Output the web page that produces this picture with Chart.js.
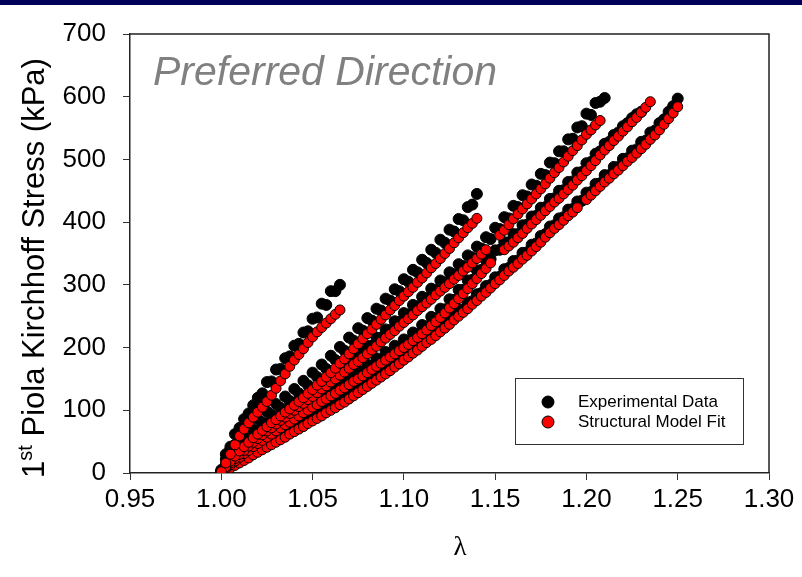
<!DOCTYPE html>
<html>
<head>
<meta charset="utf-8">
<script src="https://cdn.jsdelivr.net/npm/chart.js@4.4.1/dist/chart.umd.min.js"></script>
<style>
  html, body { margin: 0; padding: 0; background: #fff; }
  canvas { display: block; }
</style>
</head>
<body>
<canvas id="chart" width="802" height="577"></canvas>
<script>
// Stretch grids (λ)
const LAMBDA_FINE = [1.0000,1.0025,1.0050,1.0075,1.0100,1.0125,1.0150,1.0175,1.0200,1.0225,1.0250,1.0275,1.0300,1.0325,1.0350,1.0375,1.0400,1.0425,1.0450,1.0475,1.0500,1.0525,1.0550,1.0575,1.0600,1.0625,1.0650,1.0675,1.0700,1.0725,1.0750,1.0775,1.0800,1.0825,1.0850,1.0875,1.0900,1.0925,1.0950,1.0975,1.1000,1.1025,1.1050,1.1075,1.1100,1.1125,1.1150,1.1175,1.1200,1.1225,1.1250,1.1275,1.1300,1.1325,1.1350,1.1375,1.1400,1.1425,1.1450,1.1475,1.1500,1.1525,1.1550,1.1575,1.1600,1.1625,1.1650,1.1675,1.1700,1.1725,1.1750,1.1775,1.1800,1.1825,1.1850,1.1875,1.1900,1.1925,1.1950,1.1975,1.2000,1.2025,1.2050,1.2075,1.2100,1.2125,1.2150,1.2175,1.2200,1.2225,1.2250,1.2275,1.2300,1.2325,1.2350,1.2375,1.2400,1.2425,1.2450,1.2475,1.2500];
const LAMBDA_A = [1.000,1.005,1.010,1.015,1.020,1.025,1.030,1.035,1.040,1.045,1.050,1.055,1.060,1.065,1.070,1.075,1.080,1.085,1.090,1.095,1.100,1.105,1.110,1.115,1.120,1.125,1.130,1.135,1.140,1.145,1.150,1.155,1.160,1.165,1.170,1.175,1.180,1.185,1.190,1.195,1.200,1.205,1.210,1.215,1.220,1.225,1.230,1.235,1.240,1.245,1.250];
const LAMBDA_B = [1.0025,1.0075,1.0125,1.0175,1.0225,1.0275,1.0325,1.0375,1.0425,1.0475,1.0525,1.0575,1.0625,1.0675,1.0725,1.0775,1.0825,1.0875,1.0925,1.0975,1.1025,1.1075,1.1125,1.1175,1.1225,1.1275,1.1325,1.1375,1.1425,1.1475,1.1525,1.1575,1.1625,1.1675,1.1725,1.1775,1.1825,1.1875,1.1925,1.1975,1.2025,1.2075,1.2125,1.2175,1.2225,1.2275,1.2325,1.2375,1.2425,1.2475];

// Structural model fit, 1st PK stress (kPa) on LAMBDA_FINE, one array per protocol
const MODEL_1 = [2,16,30,45,59,70,80,89,97,105,114,124,135,147,158,170,180,189,198,208,217,225,232,239,246,253,260];
const MODEL_2 = [0,10,19,27,35,42,49,56,62,68,74,80,85,91,97,102,108,114,120,127,133,140,146,153,160,167,175,182,190,198,206,214,222,229,237,245,252,260,267,275,282,289,296,304,311,319,327,334,342,350,358,367,375,383,391,398,406];
const MODEL_3 = [0,8,16,23,30,36,43,49,55,61,67,72,78,84,89,95,100,106,111,117,122,128,134,139,145,150,156,161,167,173,178,184,190,196,202,209,215,221,227,234,240,246,252,259,265,271,277,284,290,296,302,309,315,322,328,335,342,349,356,null,null,379,387,396,405,413,421,429,437,445,453,461,470,479,487,496,505,514,522,531,540,547,555,562];
const MODEL_4 = [0,7,13,19,25,31,36,42,47,52,57,62,67,72,77,81,86,91,96,100,105,109,114,118,123,127,132,136,141,146,150,155,160,165,170,175,180,185,190,195,200,205,211,216,222,228,235,241,248,255,263,270,278,286,294,302,310,318,326,335,null,null,356,362,368,375,382,390,397,404,411,418,425,432,438,445,452,459,467,474,482,490,498,507,515,522,530,537,545,552,560,567,575,583,592];
const MODEL_5 = [0,4,8,12,16,20,24,29,33,37,41,45,49,53,57,62,66,70,74,79,83,87,91,96,100,104,109,113,118,123,128,133,138,143,148,153,158,163,169,174,180,185,191,196,202,208,213,219,225,231,237,244,250,256,262,269,275,282,288,295,302,308,315,322,328,334,341,347,354,361,368,376,383,390,396,403,410,416,423,null,436,443,450,457,464,470,477,483,490,497,503,510,517,524,532,539,547,556,565,574,584];

// Experimental data, 1st PK stress (kPa): first pass on LAMBDA_A, second pass on LAMBDA_B
const EXP_1A = [5,42,72,95,120,145,165,183,203,224,246,270,290,300];
const EXP_1B = [30,62,86,108,127,146,166,186,206,226,248,268,290];
const EXP_2A = [3,38,58,73,86,98,110,122,134,147,160,173,187,201,216,231,247,262,278,293,309,324,340,356,372,388,405,424,445];
const EXP_2B = [22,45,56,69,81,93,104,115,127,140,153,166,180,195,211,227,243,259,275,290,305,320,335,351,367,385,403,428];
const EXP_3A = [3,28,42,55,67,79,90,101,112,123,134,146,157,168,180,191,203,216,229,242,255,268,281,294,307,320,333,347,361,376,391,408,426,443,460,477,495,513,532,551,573,590,598];
const EXP_3B = [14,30,42,55,67,78,90,101,112,123,134,145,157,168,180,191,203,216,228,241,253,266,279,292,304,317,330,344,358,373,389,406,424,441,458,475,494,513,533,553,571,592];
const EXP_4A = [2,25,38,49,60,70,80,90,99,109,118,127,136,145,154,163,173,183,193,203,213,224,236,249,262,277,292,307,323,339,355,368,381,395,409,423,437,450,464,479,494,509,525,539,553,566,576];
const EXP_4B = [13,26,37,48,58,68,78,87,97,106,115,124,133,142,152,161,171,181,191,201,211,222,234,247,261,276,292,308,324,341,356,368,381,396,410,424,438,451,465,480,496,513,528,543,558,572];
const EXP_5A = [2,18,27,35,43,51,59,67,76,84,93,101,110,119,128,138,148,158,168,179,190,201,212,223,235,247,260,272,285,298,312,325,338,351,364,378,393,406,420,433,447,461,475,488,501,514,528,543,558,576,597];
const EXP_5B = [9,17,25,34,42,50,58,67,75,84,92,101,109,118,128,138,148,158,168,179,190,201,213,224,236,249,261,274,287,300,313,327,339,352,366,381,395,408,421,434,448,462,475,488,502,516,530,546,564,585];

// Axis ticks
const X_TICKS = [0.95, 1.00, 1.05, 1.10, 1.15, 1.20, 1.25, 1.30];
const Y_TICKS = [0, 100, 200, 300, 400, 500, 600, 700];

const SERIES_NAMES = ['Experimental Data', 'Structural Model Fit'];
const PANEL_TITLE = 'Preferred Direction';

const SANS = "'Liberation Sans', Arial, Helvetica, sans-serif";
const SERIF = "'Liberation Serif', 'Times New Roman', serif";

function toPoints(lams, stresses) {
  const pts = [];
  stresses.forEach((s, i) => {
    if (s !== null) pts.push({ x: lams[i], y: s });
  });
  return pts;
}

const expSets = [
  [LAMBDA_A, EXP_1A], [LAMBDA_B, EXP_1B],
  [LAMBDA_A, EXP_2A], [LAMBDA_B, EXP_2B],
  [LAMBDA_A, EXP_3A], [LAMBDA_B, EXP_3B],
  [LAMBDA_A, EXP_4A], [LAMBDA_B, EXP_4B],
  [LAMBDA_A, EXP_5A], [LAMBDA_B, EXP_5B]
].map(([lam, arr]) => ({
  label: SERIES_NAMES[0],
  data: toPoints(lam, arr),
  backgroundColor: '#000000',
  borderColor: '#000000',
  borderWidth: 1,
  pointRadius: 5.5,
  order: 2
}));
const modelSets = [MODEL_1, MODEL_2, MODEL_3, MODEL_4, MODEL_5].map(arr => ({
  label: SERIES_NAMES[1],
  data: toPoints(LAMBDA_FINE, arr),
  backgroundColor: '#ff0000',
  borderColor: '#000000',
  borderWidth: 1,
  pointRadius: 5,
  order: 1
}));

const decor = {
  id: 'decor',
  beforeDraw(chart) {
    const ctx = chart.ctx;
    ctx.save();
    ctx.fillStyle = '#ffffff';
    ctx.fillRect(0, 0, chart.width, chart.height);
    ctx.fillStyle = '#000058';
    ctx.fillRect(0, 0, chart.width, 5);
    ctx.restore();
  },
  afterDraw(chart) {
    const ctx = chart.ctx;
    const a = chart.chartArea;
    ctx.save();

    // frame: top and right edges
    ctx.strokeStyle = '#222';
    ctx.lineWidth = 1.5;
    ctx.beginPath();
    ctx.moveTo(a.left, a.top);
    ctx.lineTo(a.right, a.top);
    ctx.lineTo(a.right, a.bottom);
    ctx.stroke();

    // panel title
    ctx.fillStyle = '#808080';
    ctx.font = 'italic 41px ' + SANS;
    ctx.textAlign = 'left';
    ctx.textBaseline = 'alphabetic';
    ctx.fillText(PANEL_TITLE, 153, 85);

    // y axis title with superscript
    ctx.save();
    ctx.translate(44, 268);
    ctx.rotate(-Math.PI / 2);
    ctx.fillStyle = '#000';
    const mainFont = '31px ' + SANS;
    const supFont = '20px ' + SANS;
    ctx.font = mainFont;
    const w1 = ctx.measureText('1').width;
    const w3 = ctx.measureText(' Piola Kirchhoff Stress (kPa)').width;
    ctx.font = supFont;
    const w2 = ctx.measureText('st').width;
    const x0 = -(w1 + w2 + w3) / 2;
    ctx.textAlign = 'left';
    ctx.textBaseline = 'alphabetic';
    ctx.font = mainFont;
    ctx.fillText('1', x0, 0);
    ctx.font = supFont;
    ctx.fillText('st', x0 + w1, -12);
    ctx.font = mainFont;
    ctx.fillText(' Piola Kirchhoff Stress (kPa)', x0 + w1 + w2, 0);
    ctx.restore();

    // x axis title
    ctx.fillStyle = '#000';
    ctx.font = '27px ' + SERIF;
    ctx.textAlign = 'center';
    ctx.textBaseline = 'middle';
    ctx.fillText('λ', 460, 548);

    // legend
    ctx.fillStyle = '#ffffff';
    ctx.fillRect(515, 378, 228, 66);
    ctx.strokeStyle = '#333';
    ctx.lineWidth = 1;
    ctx.strokeRect(515.5, 378.5, 228, 66);
    const rows = [
      { y: 402, fill: '#000000', text: SERIES_NAMES[0] },
      { y: 422, fill: '#ff0000', text: SERIES_NAMES[1] }
    ];
    rows.forEach(r => {
      ctx.beginPath();
      ctx.arc(548, r.y, 6, 0, Math.PI * 2);
      ctx.fillStyle = r.fill;
      ctx.fill();
      ctx.strokeStyle = '#000';
      ctx.lineWidth = 1;
      ctx.stroke();
      ctx.fillStyle = '#000';
      ctx.font = '17px ' + SANS;
      ctx.textAlign = 'left';
      ctx.textBaseline = 'middle';
      ctx.fillText(r.text, 578, r.y);
    });

    ctx.restore();
  }
};

new Chart(document.getElementById('chart'), {
  type: 'scatter',
  data: { datasets: [...modelSets, ...expSets] },
  options: {
    responsive: false,
    animation: false,
    events: [],
    layout: { padding: { top: 34, right: 33, left: 0, bottom: 0 } },
    plugins: { legend: { display: false }, tooltip: { enabled: false } },
    elements: { point: { pointStyle: 'circle' } },
    scales: {
      x: {
        type: 'linear',
        min: 0.95,
        max: 1.30,
        afterBuildTicks: s => { s.ticks = X_TICKS.map(v => ({ value: v })); },
        afterFit: s => { s.height = 104; },
        ticks: {
          callback: v => Number(v).toFixed(2),
          font: { family: SANS, size: 26 },
          color: '#000',
          padding: 4,
          maxRotation: 0,
          autoSkip: false
        },
        grid: { drawOnChartArea: false, drawTicks: true, tickLength: 7, color: '#333', lineWidth: 1 },
        border: { display: true, color: '#222', width: 1.5 }
      },
      y: {
        type: 'linear',
        min: 0,
        max: 700,
        afterBuildTicks: s => { s.ticks = Y_TICKS.map(v => ({ value: v })); },
        afterFit: s => { s.width = 130; },
        ticks: {
          font: { family: SANS, size: 26 },
          color: '#000',
          padding: 17,
          autoSkip: false
        },
        grid: { drawOnChartArea: false, drawTicks: true, tickLength: 7, color: '#333', lineWidth: 1 },
        border: { display: true, color: '#222', width: 1.5 }
      }
    }
  },
  plugins: [decor]
});
</script>
</body>
</html>
